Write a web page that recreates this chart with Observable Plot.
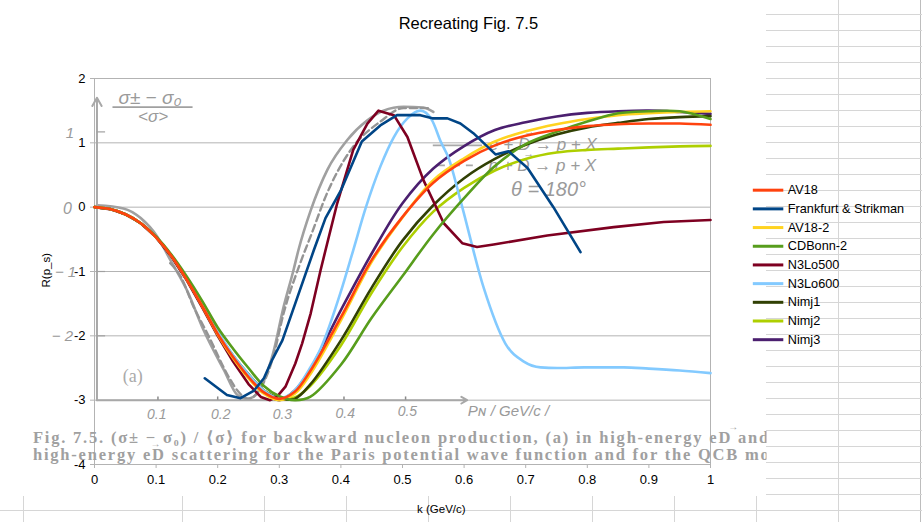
<!DOCTYPE html>
<html>
<head>
<meta charset="utf-8">
<script src="https://cdn.jsdelivr.net/npm/d3@7"></script>
<script src="https://cdn.jsdelivr.net/npm/@observablehq/plot@0.6"></script>
<style>
html,body{margin:0;padding:0;background:#fff}
#page{position:relative;width:922px;height:522px;overflow:hidden;background:#fff;
  background-image:
    repeating-linear-gradient(to bottom,transparent 0 14px,#d6d6d6 14px 15px,transparent 15px 16px),
    linear-gradient(to right,transparent 838px,#d6d6d6 838px 839px,transparent 839px 920px,#bdbdbd 920px 921px,transparent 921px);}
#sheet{position:absolute;left:0;top:0;width:766px;height:496px;background:#fff}
#foot{position:absolute;left:0;top:496px;width:766px;height:26px;background-color:#fff;
  background-image:linear-gradient(to bottom,transparent 14px,#d6d6d6 14px 15px,transparent 15px);}
#foot i{position:absolute;top:0;bottom:0;width:1px;background:#d6d6d6}
#chart{position:absolute;left:0;top:0}
.cap text{letter-spacing:1.8px}
</style>
</head>
<body>
<div id="page"><div id="sheet"></div><div id="foot"></div><div id="chart"></div></div>
<script>
// Shared momentum grid for the smooth model curves
const kGrid = [0,.025,.05,.075,.1,.125,.15,.175,.2,.225,.25,.275,.3,.325,.35,.4,.45,.5,.55,.6,.65,.7,.75,.8,.85,.9,.95,1];
const av18  = [0,-.03,-.11,-.25,-.47,-.76,-1.13,-1.54,-1.97,-2.33,-2.64,-2.88,-2.98,-2.87,-2.55,-1.71,-.82,-.15,.38,.72,.96,1.11,1.2,1.26,1.29,1.3,1.3,1.28];
const av182 = [0,-.03,-.11,-.25,-.47,-.76,-1.13,-1.54,-1.98,-2.35,-2.66,-2.9,-3,-2.9,-2.6,-1.76,-.85,-.16,.42,.76,1.02,1.18,1.29,1.37,1.43,1.46,1.48,1.49];
const cdBonn= [0,-.03,-.11,-.25,-.46,-.74,-1.08,-1.46,-1.87,-2.2,-2.5,-2.78,-2.94,-3,-2.95,-2.45,-1.72,-1.07,-.42,.14,.64,.98,1.17,1.33,1.46,1.49,1.49,1.37];
const nimj1 = [0,-.03,-.11,-.25,-.47,-.76,-1.12,-1.52,-1.95,-2.31,-2.6,-2.85,-2.97,-2.98,-2.76,-2.07,-1.25,-.52,.03,.45,.75,.97,1.13,1.24,1.31,1.37,1.4,1.415];
const nimj2 = [0,-.03,-.11,-.25,-.47,-.76,-1.12,-1.52,-1.95,-2.31,-2.6,-2.85,-2.96,-2.96,-2.78,-2.15,-1.33,-.62,-.07,.3,.57,.75,.85,.89,.91,.93,.945,.953];
const nimj3 = [0,-.03,-.11,-.25,-.47,-.76,-1.13,-1.54,-1.97,-2.32,-2.62,-2.87,-3,-2.85,-2.52,-1.6,-.72,.06,.6,.95,1.2,1.32,1.41,1.465,1.49,1.5,1.48,1.45];

const k600 = [0,.025,.05,.075,.1,.125,.15,.175,.2,.225,.25,.275,.3,.325,.35,.367,.4,.42,.44,.464,.486,.508,.529,.548,.562,.575,.594,.632,.667,.697,.724,.751,.795,.859,.9,.95,1];
const n3lo600 = [0,-.03,-.11,-.25,-.47,-.76,-1.12,-1.52,-1.93,-2.3,-2.6,-2.85,-2.97,-2.85,-2.5,-2.2,-1.31,-.67,-.02,.63,1.09,1.38,1.5,1.35,1.02,.76,.11,-1.26,-2.12,-2.4,-2.49,-2.5,-2.49,-2.49,-2.51,-2.54,-2.58];
const k500 = [0,.025,.05,.075,.1,.125,.15,.175,.2,.225,.25,.27,.285,.296,.31,.326,.337,.351,.367,.375,.394,.42,.443,.461,.486,.508,.534,.567,.597,.621,.648,.735,.843,.924,1];
const n3lo500 = [0,-.03,-.11,-.25,-.47,-.77,-1.14,-1.56,-2,-2.4,-2.75,-2.95,-3,-2.95,-2.79,-2.43,-2.12,-1.65,-.98,-.67,.06,.89,1.3,1.5,1.43,1.09,.42,-.25,-.56,-.62,-.58,-.44,-.31,-.23,-.2];
const kFS = [.179,.215,.237,.259,.275,.288,.305,.356,.375,.4,.434,.464,.491,.529,.55,.573,.594,.615,.651,.672,.703,.745,.789];
const frankfurt = [-2.66,-2.92,-2.97,-2.85,-2.66,-2.38,-2.07,-.67,-.17,.26,1.02,1.27,1.43,1.43,1.38,1.38,1.3,1.15,.82,.87,.61,0,-.7];

// Curves of the scanned figure behind the chart
const kScan = [.004,.047,.075,.102,.123,.15,.177,.21,.232,.248,.258,.29,.307,.323,.331,.351,.378,.41,.443,.469,.502,.534,.55];
const scanSolid = [.03,-.02,-.17,-.46,-.82,-1.29,-1.91,-2.53,-2.92,-2.98,-2.95,-2.27,-1.55,-.98,-.67,-.05,.58,1.04,1.35,1.5,1.56,1.55,1.48];
const kScanDash = [.123,.14,.161,.183,.221,.232,.25,.264,.29,.307,.334,.353,.375,.416,.464,.502,.545];
const scanDash = [-.87,-1.08,-1.55,-1.96,-2.69,-2.85,-2.98,-2.89,-2.33,-1.65,-.87,-.4,.16,.89,1.33,1.54,1.54];

const names  = ["AV18","Frankfurt & Strikman","AV18-2","CDBonn-2","N3Lo500","N3Lo600","Nimj1","Nimj2","Nimj3"];
const colors = ["#ff420e","#004586","#ffd320","#579d1c","#7e0021","#83caff","#314004","#aecf00","#4b1f6f"];
const xTicks = [0,.1,.2,.3,.4,.5,.6,.7,.8,.9,1];
const yTicks = [-4,-3,-2,-1,0,1,2];

const seriesData = {
  "AV18":[kGrid,av18,"catmull-rom"],"Frankfurt & Strikman":[kFS,frankfurt,"linear"],"AV18-2":[kGrid,av182,"catmull-rom"],
  "CDBonn-2":[kGrid,cdBonn,"catmull-rom"],"N3Lo500":[k500,n3lo500,"linear"],"N3Lo600":[k600,n3lo600,"monotone-x"],
  "Nimj1":[kGrid,nimj1,"catmull-rom"],"Nimj2":[kGrid,nimj2,"catmull-rom"],"Nimj3":[kGrid,nimj3,"catmull-rom"]
};
const drawOrder = ["Nimj3","Nimj2","Nimj1","N3Lo600","N3Lo500","AV18-2","CDBonn-2","AV18","Frankfurt & Strikman"];
const zip = (a,b) => a.map((k,i)=>({k,v:b[i]}));

// Annotations of the scan, in chart units
const scanHand = [
  {k:.09,v:1.7,t:"σ± − σ₀",s:19},{k:.095,v:1.41,t:"<σ>",s:17},
  {k:-.04,v:1.15,t:"1",s:15},{k:-.044,v:-.02,t:"0",s:16},{k:-.047,v:-1.01,t:"− 1",s:15},{k:-.052,v:-2,t:"− 2",s:15},
  {k:.101,v:-3.23,t:"0.1",s:14},{k:.205,v:-3.23,t:"0.2",s:14},{k:.305,v:-3.22,t:"0.3",s:14},{k:.407,v:-3.2,t:"0.4",s:14},{k:.508,v:-3.18,t:"0.5",s:14},
  {k:.672,v:-3.17,t:"Pɴ / GeV/c /",s:15},
  {k:.728,v:.98,t:"e + D → p + X",s:17},{k:.727,v:.65,t:"p + D → p + X",s:17},{k:.737,v:.27,t:"θ = 180°",s:20},
  {k:.706,v:1.17,t:"→",s:11},{k:.705,v:.84,t:"→",s:11}
];
const capLines = [
  {k:-.1,v:-3.58,t:"Fig. 7.5. (σ± − σ₀) / ⟨σ⟩ for backward nucleon production, (a) in high-energy eD and"},
  {k:-.1,v:-3.845,t:"high-energy eD scattering for the Paris potential wave function and for the QCB model"}
];
const capArrows = [{k:1.037,v:-3.42},{k:.099,v:-3.68}];
const GREY = "#9a9a9a";
const SANS = "Liberation Sans";
const legendRows = names.map((name,i)=>({name,color:colors[i],v:.264-i*.2905}));

const plot = Plot.plot({
  width:922,height:522,marginLeft:94,marginRight:212,marginTop:78,marginBottom:58,
  style:{background:"transparent",fontFamily:SANS,fontSize:"13px",color:"#000"},
  x:{domain:[0,1]},y:{domain:[-4,2]},
  marks:[
    // gridlines and frame
    Plot.ruleY(yTicks,{stroke:"#b3b3b3"}),
    Plot.ruleX([0,1],{stroke:"#b3b3b3"}),
    Plot.axisX({ticks:xTicks,tickSize:4,tickPadding:6,stroke:"#b3b3b3",fill:"#000",tickFormat:d=>String(d),label:null,fontSize:13}),
    Plot.axisY({ticks:yTicks,tickSize:4,tickPadding:5,stroke:"#b3b3b3",fill:"#000",tickFormat:d=>String(d),label:null,fontSize:13}),
    // scanned figure
    Plot.line(zip(kScan,scanSolid),{x:"k",y:"v",stroke:"#a0a0a0",strokeWidth:2.6,curve:"monotone-x"}),
    Plot.line(zip(kScanDash,scanDash),{x:"k",y:"v",stroke:"#949494",strokeWidth:2.4,strokeDasharray:"7 4",curve:"monotone-x"}),
    Plot.arrow([{a:.004,b:-3,c:.004,d:1.7}],{x1:"a",y1:"b",x2:"c",y2:"d",stroke:"#a8a8a8",strokeWidth:2,headLength:7}),
    Plot.arrow([{a:.004,b:-3,c:.605,d:-3}],{x1:"a",y1:"b",x2:"c",y2:"d",stroke:"#a8a8a8",strokeWidth:2,headLength:5}),
    Plot.ruleY([1.17,-1,-2],{x1:.004,x2:.018,stroke:"#a0a0a0",strokeWidth:1.2}),
    Plot.ruleX([.103,.2,.405,.505],{y1:-3,y2:-2.95,stroke:"#8a8a8a",strokeWidth:1.5}),
    Plot.ruleY([1.555],{x1:.03,x2:.16,stroke:"#a0a0a0",strokeWidth:1.6}),
    Plot.ruleY([.96],{x1:.55,x2:.63,stroke:"#a8a8a8",strokeWidth:1.6}),
    Plot.ruleY([.65],{x1:.555,x2:.615,stroke:"#a8a8a8",strokeWidth:1.6,strokeDasharray:"9 6"}),
    Plot.text(scanHand,{x:"k",y:"v",text:"t",fontSize:"s",fill:GREY,fontStyle:"italic",fontFamily:SANS}),
    Plot.text(["(a)"],{x:[.062],y:[-2.63],fontSize:18,fill:"#aaa",fontFamily:"Liberation Serif"}),
    Plot.text(capLines,{x:"k",y:"v",text:"t",textAnchor:"start",fontSize:16.5,fontWeight:"bold",fill:"#a0a0a0",fontFamily:"Liberation Serif, DejaVu Serif",className:"cap"}),
    Plot.text(capArrows,{x:"k",y:"v",text:()=>"→",fontSize:10,fill:"#a0a0a0",fontFamily:SANS}),
    // model curves
    ...drawOrder.map(name=>Plot.line(zip(seriesData[name][0],seriesData[name][1]),{x:"k",y:"v",stroke:colors[names.indexOf(name)],strokeWidth:2.6,curve:seriesData[name][2]})),
    // titles
    Plot.text(["Recreating Fig. 7.5"],{x:[.607],y:[2.855],fontSize:16.5,fill:"#000",fontFamily:SANS}),
    Plot.text(["k (GeV/c)"],{x:[.563],y:[-4.7],fontSize:11.5,fill:"#000",fontFamily:SANS}),
    Plot.text(["R(p_s)"],{x:[-.0785],y:[-.98],rotate:-90,fontSize:11.5,fill:"#000",fontFamily:SANS}),
    // legend
    Plot.ruleY(legendRows,{y:"v",x1:1.0695,x2:1.119,stroke:"color",strokeWidth:3}),
    Plot.text(legendRows,{x:1.1255,y:"v",text:"name",textAnchor:"start",fontSize:12.7,fill:"#000",fontFamily:SANS})
  ]
});
document.getElementById("chart").appendChild(plot);

// spreadsheet column rules below the chart object
const foot=document.getElementById("foot");
for(const x of [23,182,264,346,428,510,592,674,756]){const i=document.createElement("i");i.style.left=x+"px";foot.appendChild(i);}

// the pasted scan is cropped at the chart object's edge
const ns="http://www.w3.org/2000/svg";
const clip=document.createElementNS(ns,"clipPath");clip.id="capclip";
const r=document.createElementNS(ns,"rect");r.setAttribute("x",0);r.setAttribute("y",0);r.setAttribute("width",766);r.setAttribute("height",522);
clip.appendChild(r);plot.appendChild(clip);
plot.querySelector("g.cap").setAttribute("clip-path","url(#capclip)");
</script>
</body>
</html>
